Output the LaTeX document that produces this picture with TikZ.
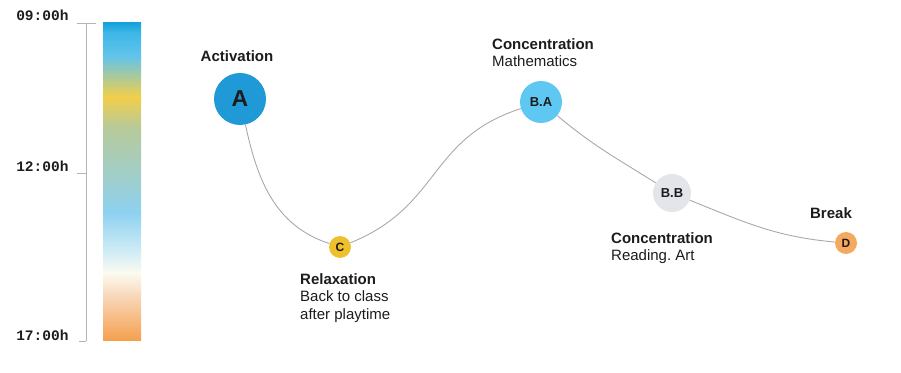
\documentclass[tikz,border=0pt]{standalone}
\usepackage{fontspec}
\setmainfont{Liberation Sans}
\newfontfamily\clockfont{Liberation Mono}
\usepackage{xcolor}
\usetikzlibrary{positioning,calc}
\frenchspacing

\definecolor{inkgray}{HTML}{1C1C1C}
\definecolor{axisgray}{HTML}{B4B4B4}
\definecolor{wavegray}{HTML}{A9A9A9}
\definecolor{actblue}{HTML}{1F9AD6}
\definecolor{concblue}{HTML}{5EC8F2}
\definecolor{concgray}{HTML}{E4E5EA}
\definecolor{relaxyellow}{HTML}{EFC02E}
\definecolor{breakorange}{HTML}{F5A95E}
% bar stops
\definecolor{barA}{HTML}{18A2DC}
\definecolor{barB}{HTML}{3DB7E8}
\definecolor{barC}{HTML}{64C4EA}
\definecolor{barD}{HTML}{F2CF4A}
\definecolor{barE}{HTML}{B8CA98}
\definecolor{barF}{HTML}{8ED1F0}
\definecolor{barG}{HTML}{D2EDF6}
\definecolor{barH}{HTML}{FBFBF0}
\definecolor{barI}{HTML}{F9DCC2}
\definecolor{barJ}{HTML}{F4A04F}

\begin{document}
\begin{tikzpicture}[x=1pt,y=1pt,
    clock/.style={anchor=base east,text=inkgray,font=\clockfont\bfseries\fontsize{14.5}{16}\selectfont},
    stage/.style={circle,inner sep=0pt,text=inkgray,font=\bfseries\fontsize{13}{15}\selectfont},
    title/.style={anchor=base,text=inkgray,font=\bfseries\fontsize{15}{18}\selectfont},
    note/.style={anchor=north west,align=left,inner sep=0pt,text=inkgray,font=\fontsize{15}{17.5}\selectfont},
    wave/.style={draw=wavegray,line width=0.9pt}]
    \useasboundingbox (0,0) rectangle (901,372);

    % Time axis
    \coordinate (t9) at (86,349);
    \coordinate (t17) at (86,31);
    \draw[axisgray,line width=0.9pt] (t9) -- (t17);
    \draw[axisgray,line width=0.9pt] (77,349) -- (96,349);
    \draw[axisgray,line width=0.9pt] (77,199) -- (86,199);
    \draw[axisgray,line width=0.9pt] (79,31) -- (86,31);
    \node[clock] (h9) at (72,351) {09:00h};
    \node[clock] (h12) at (72,200) {12:00h};
    \node[clock] (h17) at (72,32) {17:00h};

    % Colour bar
    \foreach \ya/\yb/\ca/\cb in {349/339/barA/barB, 339.5/315/barB/barC, 315.5/275/barC/barD,
        275.5/245/barD/barE, 245.5/159/barE/barF, 159.5/119/barF/barG, 119.5/99/barG/barH,
        99.5/79/barH/barI, 79.5/32/barI/barJ}
        \shade[top color=\ca,bottom color=\cb] (103,\ya) rectangle (141,\yb);

    % Stages
    \node[stage,fill=actblue,minimum size=52pt,font=\bfseries\fontsize{23}{25}\selectfont] (A) at (240,273) {A};
    \node[stage,fill=relaxyellow,minimum size=22pt,font=\bfseries\fontsize{12}{14}\selectfont] (C) at (340,125) {C};
    \node[stage,fill=concblue,minimum size=42pt] (BA) at (541,270) {B.A};
    \node[stage,fill=concgray,minimum size=38pt] (BB) at (672,179) {B.B};
    \node[stage,fill=breakorange,minimum size=22pt,font=\bfseries\fontsize{12}{14}\selectfont] (D) at (846,129) {D};

    % Labels
    \node[title] (actlbl) at (237,310) {Activation};
    \node[title] (brklbl) at (831,153) {Break};
    \node[note] (rlxlbl) at (300,99) {\textbf{Relaxation}\\Back to class\\after playtime};
    \node[note] (mathlbl) at (492,334) {\textbf{Concentration}\\Mathematics};
    \node[note] (artlbl) at (611,140) {\textbf{Concentration}\\Reading. Art};

    % Wave through the day
    \draw[wave] (A) to[out=-78,in=162] (C);
    \draw[wave] (C) to[out=22,in=198,looseness=1.15] (BA);
    \draw[wave] (BA) to[out=-40,in=148] (BB);
    \draw[wave] (BB) to[out=-22,in=175] (D);
\end{tikzpicture}
\end{document}
